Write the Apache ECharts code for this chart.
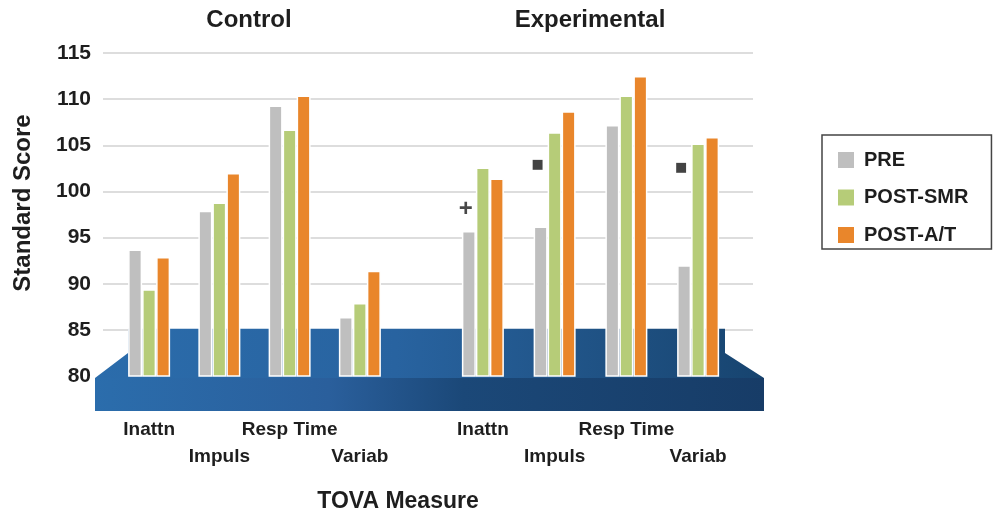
<!DOCTYPE html>
<html>
<head>
<meta charset="utf-8">
<script src="https://cdn.jsdelivr.net/npm/echarts@6/dist/echarts.min.js"></script>
<style>
html,body{margin:0;padding:0;background:#fff;}
#chart{width:998px;height:516px;}
</style>
</head>
<body>
<div id="chart"></div>
<script>
// ---- data ----
const categories = ['Inattn', 'Impuls', 'Resp Time', 'Variab'];
const seriesNames = ['PRE', 'POST-SMR', 'POST-A/T'];
const groupTitles = ['Control', 'Experimental'];
const controlPre = [93.7, 97.9, 109.3, 86.4];
const controlSmr = [89.4, 98.8, 106.7, 87.9];
const controlAt  = [92.9, 102.0, 110.4, 91.4];
const expPre = [95.7, 96.2, 107.2, 92.0];
const expSmr = [102.6, 106.4, 110.4, 105.2];
const expAt  = [101.4, 108.7, 112.5, 105.9];
const yMin = 80, yMax = 115, yStep = 5;
const annotCats = [0, 1, 3];
const annotValues = [98.1, 102.9, 102.6];
const annotTexts = ['+', '■', '■'];
const xTitle = 'TOVA Measure';
const yTitle = 'Standard Score';

// ---- styles ----
const colors = ['#bfbfbf', '#b6cc78', '#e9862b'];
const FONT = "'Liberation Sans', Arial, sans-serif";
const TXT = '#1e1e1e';

const chart = echarts.init(document.getElementById('chart'), null, {renderer: 'canvas'});

const gridTop = 53, gridBottom = 140;
const grids = [
  {left: 103, right: 245, top: gridTop, bottom: gridBottom},
  {left: 114, width: 281, top: gridTop, bottom: gridBottom},
  {left: 447, width: 287, top: gridTop, bottom: gridBottom}
];

function catAxis(idx) {
  return {
    type: 'category', gridIndex: idx, data: categories,
    axisLine: {show: false}, axisTick: {show: false},
    axisLabel: {
      margin: 44,
      interval: 0,
      formatter: (v, i) => (i % 2 ? '{b|' + v + '}' : '{a|' + v + '}'),
      rich: {
        a: {fontFamily: FONT, fontWeight: 'bold', fontSize: 19, color: TXT},
        b: {fontFamily: FONT, fontWeight: 'bold', fontSize: 19, color: TXT, padding: [27, 0, 0, 0]}
      }
    }
  };
}
function valAxis(idx, visible) {
  return {
    type: 'value', gridIndex: idx, min: yMin, max: yMax, interval: yStep,
    show: true,
    axisLine: {show: false}, axisTick: {show: false},
    axisLabel: visible ? {fontFamily: FONT, fontWeight: 'bold', fontSize: 21, color: TXT, margin: 12} : {show: false},
    splitLine: visible ? {lineStyle: {color: '#dddddd', width: 1.8}} : {show: false}
  };
}

const groupsData = [[controlPre, controlSmr, controlAt], [expPre, expSmr, expAt]];
const series = [];
groupsData.forEach((g, gi) => {
  g.forEach((arr, si) => {
    series.push({
      type: 'bar', name: seriesNames[si],
      xAxisIndex: gi + 1, yAxisIndex: gi + 1,
      data: arr, barWidth: 14, barGap: '0%',
      itemStyle: {color: colors[si], borderColor: '#ffffff', borderWidth: 1.5},
      z: 3
    });
  });
});
series.push({
  type: 'scatter', xAxisIndex: 2, yAxisIndex: 2,
  data: annotCats.map((c, i) => [c, annotValues[i]]),
  symbol: 'circle', symbolSize: 1,
  itemStyle: {color: 'rgba(0,0,0,0)'},
  label: {
    show: true, position: 'inside', offset: [-17, 0],
    formatter: p => (annotTexts[p.dataIndex] === '+' ? '{p|+}' : '{s|' + annotTexts[p.dataIndex] + '}'),
    rich: {
      p: {fontFamily: FONT, fontSize: 24, fontWeight: 'bold', color: '#1a1a1a'},
      s: {fontFamily: "'DejaVu Sans', sans-serif", fontSize: 13, color: '#141414'}
    }
  },
  z: 4, silent: true
});

chart.setOption({
  animation: false,
  backgroundColor: '#ffffff',
  grid: grids,
  xAxis: [
    {type: 'category', gridIndex: 0, data: [''], show: false},
    catAxis(1), catAxis(2)
  ],
  yAxis: [valAxis(0, true), valAxis(1, false), valAxis(2, false)],
  legend: {
    data: seriesNames,
    orient: 'vertical', left: 822, top: 135,
    icon: 'rect', itemWidth: 18, itemHeight: 18, itemGap: 17.5,
    padding: [15, 23, 4, 14],
    borderColor: '#444', borderWidth: 1.5,
    textStyle: {fontFamily: FONT, fontWeight: 'bold', fontSize: 20, color: TXT, padding: [0, 0, 0, 4]}
  },
  series: series
});

// decorations: floor platform + titles
const py = v => chart.convertToPixel({yAxisIndex: 0}, v);
const y85 = py(85), y80 = py(80), yMidSlant = py(82.5), yFloorBottom = py(76.2);
const xL = 95, xR = 764, xTL = 128, xTR = 725;
const topGrad = new echarts.graphic.LinearGradient(0, 0, 1, 0, [
  {offset: 0, color: '#2b6cab'}, {offset: 0.45, color: '#2863a0'},
  {offset: 0.7, color: '#215589'}, {offset: 1, color: '#17446f'}
]);
const frontGrad = new echarts.graphic.LinearGradient(0, 0, 1, 0, [
  {offset: 0, color: '#2b6dac'}, {offset: 0.35, color: '#2a5f9c'},
  {offset: 0.55, color: '#1b4878'}, {offset: 1, color: '#173c67'}
]);
const titleFont = size => 'bold ' + size + "px 'Liberation Sans', Arial, sans-serif";
chart.setOption({
  graphic: [
    {type: 'polygon', z: 1, silent: true,
     shape: {points: [[xL, y80 + 2], [xTL, yMidSlant], [xTL, y85 - 1], [xTR, y85 - 1], [xTR, yMidSlant], [xR, y80 + 2]]},
     style: {fill: topGrad}},
    {type: 'rect', z: 1, silent: true,
     shape: {x: xL, y: y80 + 2, width: xR - xL, height: yFloorBottom - y80 - 2},
     style: {fill: frontGrad}},
    {type: 'text', x: 249, y: 20, silent: true,
     style: {text: groupTitles[0], align: 'center', verticalAlign: 'middle', font: titleFont(24), fill: TXT}},
    {type: 'text', x: 590, y: 20, silent: true,
     style: {text: groupTitles[1], align: 'center', verticalAlign: 'middle', font: titleFont(24), fill: TXT}},
    {type: 'text', x: 398, y: 502, silent: true,
     style: {text: xTitle, align: 'center', verticalAlign: 'middle', font: titleFont(23), fill: TXT}},
    {type: 'text', x: 23, y: 203, rotation: Math.PI / 2, silent: true,
     style: {text: yTitle, align: 'center', verticalAlign: 'middle', font: titleFont(24), fill: TXT}}
  ]
});
</script>
</body>
</html>
